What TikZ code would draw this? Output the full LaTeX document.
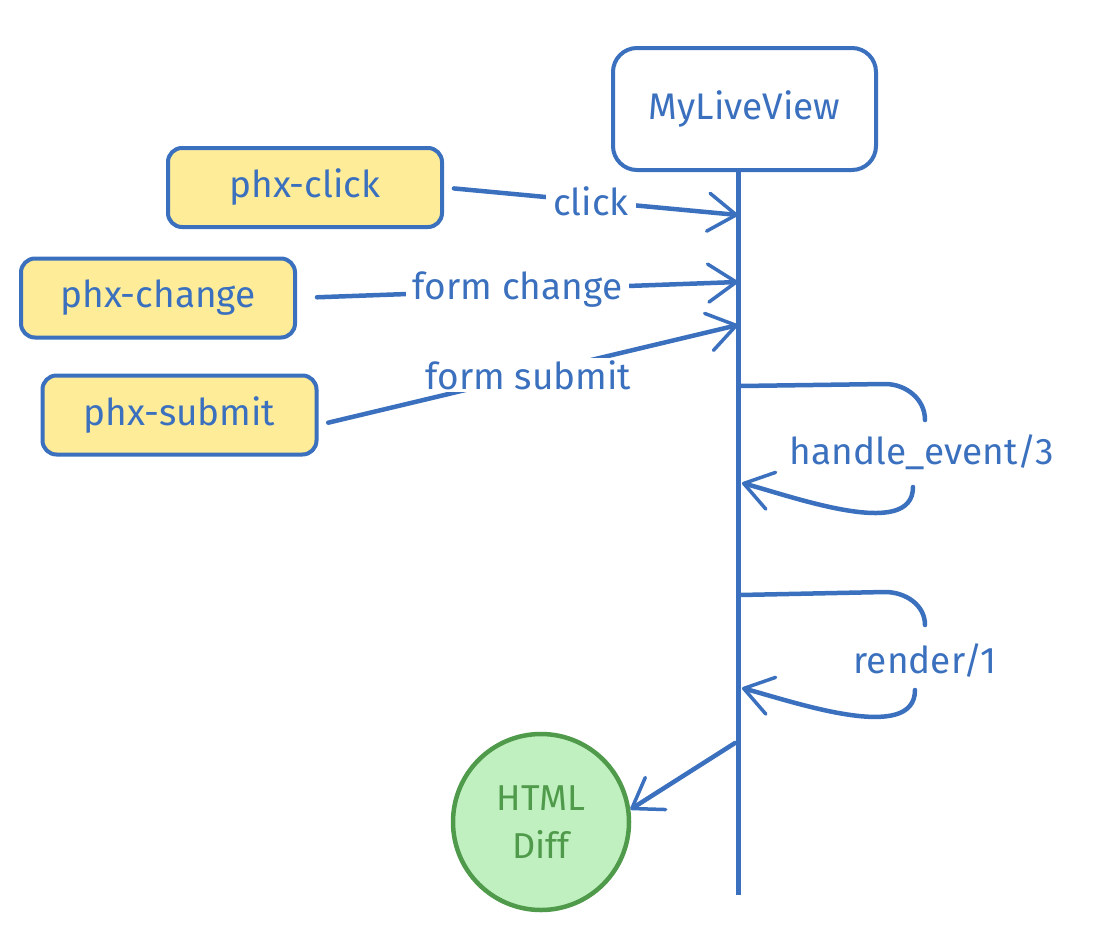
\documentclass[tikz,border=0pt]{standalone}
\usepackage{fontspec}
\setmainfont{Fira Sans}
\usetikzlibrary{arrows.meta}
\definecolor{blu}{RGB}{58,112,190}
\definecolor{yel}{RGB}{255,236,153}
\definecolor{grnf}{RGB}{192,240,192}
\definecolor{grnd}{RGB}{80,155,75}
\begin{document}
\begin{tikzpicture}[x=1pt,y=-1pt,
  txt/.style={text=blu, font=\fontsize{37}{42}\selectfont},
  evbox/.style={txt, draw=blu, line width=4pt, rounded corners=14pt, fill=yel,
    minimum width=274pt, minimum height=79pt, inner sep=0pt},
  lvbox/.style={txt, draw=blu, line width=4pt, rounded corners=24pt, fill=white,
    minimum width=263pt, minimum height=122pt, inner sep=0pt},
  diffnode/.style={circle, draw=grnd, line width=4.5pt, fill=grnf, text=grnd,
    minimum size=176pt, inner sep=0pt, align=center, font=\fontsize{36}{48}\selectfont},
  lbl/.style={txt, fill=white, inner xsep=7pt, inner ysep=2pt},
  flow/.style={draw=blu, line width=4.5pt, line cap=round},
  tip/.style={-{Straight Barb[length=28pt,width=38pt,line width=3.5pt,round]}},
  lifeline/.style={draw=blu, line width=5pt}]
\useasboundingbox (0,0) rectangle (1114,946);

% nodes
\node[lvbox] (live) at (744.5,109) {MyLiveView};
\node[evbox] (click) at (305,187.5) {phx-click};
\node[evbox] (change) at (158,298) {phx-change};
\node[evbox] (submit) at (179.5,415) {phx-submit};
\node[diffnode] (diff) at (541,822) {HTML\\Diff};

% lifeline coordinates
\coordinate (lend) at (738,895);
\coordinate (c1) at (738,215);
\coordinate (c2) at (738,282);
\coordinate (c3) at (738,325);
\coordinate (h1) at (740,386);
\coordinate (hA) at (885,384);
\coordinate (hB) at (925,420);
\coordinate (hC) at (913,487);
\coordinate (h2) at (742,483);
\coordinate (r1) at (740,595);
\coordinate (rA) at (885,592);
\coordinate (rB) at (925,625);
\coordinate (rC) at (915,690);
\coordinate (r2) at (742,688);
\coordinate (d1) at (735,743);

% lifeline
\draw[lifeline] (live.south -| lend) -- (lend);

% incoming events
\draw[flow,tip,shorten <=10pt] (click.east) -- node[lbl,pos=0.5] {click} (c1);
\draw[flow,tip,shorten <=20pt] (change.east) -- node[lbl,pos=0.5] {form change} (c2);
\draw[flow,tip,shorten <=10pt] ([yshift=-10pt]submit.east) -- node[lbl,pos=0.5] {form submit} (c3);

% handle_event loop
\draw[flow] (h1) -- (hA) to[out=0,in=90] (hB);
\node[txt] (hlbl) at (922,452) {handle\_event/3};
\draw[flow,tip] (hC) to[out=-90,in=-15,looseness=0.8] (h2);

% render loop
\draw[flow] (r1) -- (rA) to[out=0,in=90] (rB);
\node[txt] (rlbl) at (925,660) {render/1};
\draw[flow,tip] (rC) to[out=-90,in=-15,looseness=0.8] (r2);

% output
\draw[flow,tip] (d1) -- (diff.8);
\end{tikzpicture}
\end{document}
